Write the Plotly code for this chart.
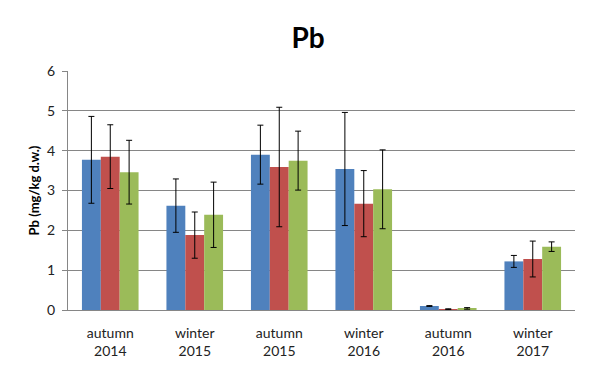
import plotly.graph_objects as go

categories = ["autumn<br>2014", "winter<br>2015", "autumn<br>2015", "winter<br>2016", "autumn<br>2016", "winter<br>2017"]
series_names = ["Series A", "Series B", "Series C"]
blue_vals = [3.77, 2.62, 3.90, 3.54, 0.10, 1.22]
blue_err = [1.09, 0.67, 0.74, 1.42, 0.01, 0.15]
red_vals = [3.85, 1.88, 3.59, 2.67, 0.02, 1.28]
red_err = [0.80, 0.58, 1.50, 0.83, 0.01, 0.45]
green_vals = [3.46, 2.39, 3.75, 3.03, 0.04, 1.59]
green_err = [0.80, 0.82, 0.74, 0.99, 0.02, 0.12]
colors = ["#4F81BD", "#C0504D", "#9BBB59"]
y_ticks = [0, 1, 2, 3, 4, 5, 6]

fig = go.Figure()
for name, vals, errs, col in zip(series_names, [blue_vals, red_vals, green_vals],
                                 [blue_err, red_err, green_err], colors):
    fig.add_trace(go.Bar(
        x=categories, y=vals, name=name, marker=dict(color=col, line=dict(width=0)),
        error_y=dict(type="data", array=errs, visible=True, color="black", thickness=1, width=3),
    ))

# page body adds an 8px margin, so the figure is sized to fit the 616x373 window
fig.update_layout(
    width=608, height=365,
    margin=dict(l=60, r=41, t=63, b=63),
    paper_bgcolor="white", plot_bgcolor="white",
    barmode="group", bargap=0.33, bargroupgap=0,
    showlegend=False,
    title=dict(text="<b>Pb</b>", x=300/608, xanchor="center", y=1 - 30/365, yanchor="middle",
               font=dict(family="Lato, Open Sans, sans-serif", size=28, color="black")),
    font=dict(family="Lato, Open Sans, sans-serif", size=14, color="#222"),
    xaxis=dict(showline=True, linecolor="#868686", linewidth=1, ticks="", tickfont=dict(size=14),
               automargin=False, ticklabelstandoff=10),
    yaxis=dict(range=[0, 6], tickvals=y_ticks, showgrid=True, gridcolor="#868686", gridwidth=1,
               showline=True, linecolor="#868686", linewidth=1, ticks="outside", ticklen=5,
               tickcolor="#868686", zeroline=False, tickfont=dict(size=14), automargin=False,
               ticklabelstandoff=4,
               title=dict(text="<b>Pb (mg/kg d.w.)</b>", font=dict(size=13, color="black"), standoff=4)),
)

fig.write_html("out.html")
